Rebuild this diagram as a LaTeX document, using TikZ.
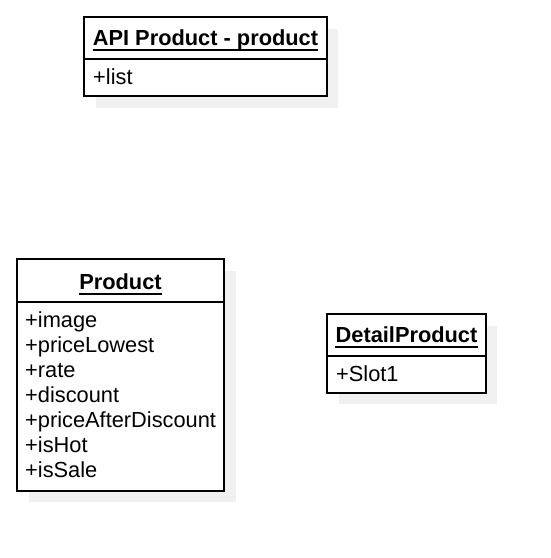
\documentclass[tikz,border=0pt]{standalone}
\usepackage{fontspec}
\setmainfont{Liberation Sans}
\definecolor{shade}{HTML}{F0F0F0}
\begin{document}
\begin{tikzpicture}[x=1pt,y=-1pt,
  classbox/.style={draw=black,line width=1.8pt,fill=white},
  shadowbox/.style={fill=shade,draw=none},
  divider/.style={draw=black,line width=1.8pt},
  title/.style={font=\fontsize{21.8}{25}\selectfont\bfseries,inner sep=0pt,anchor=base},
  attr/.style={font=\fontsize{21.8}{25}\selectfont,inner sep=0pt,anchor=base west},
  uline/.style={line width=1.8pt}]
\useasboundingbox[fill=white] (0,0) rectangle (551,558);

% API Product - product
\fill[shadowbox] (96,29) rectangle (338,108);
\path[classbox] (84,17) rectangle (327,96);
\draw[divider] (84,59) -- (327,59);
\node[title] (ta) at (205.5,45) {API Product - product};
\draw[uline] ([yshift=-5pt]ta.base west) -- ([yshift=-5pt]ta.base east);
\node[attr] (la) at (93,84) {+list};

% Product
\fill[shadowbox] (29,271) rectangle (236,502);
\path[classbox] (17,259) rectangle (224,491);
\draw[divider] (17,302) -- (224,302);
\node[title] (tp) at (120.5,289) {Product};
\draw[uline] ([yshift=-5pt]tp.base west) -- ([yshift=-5pt]tp.base east);
\node[attr] (p1) at (25,327) {+image};
\node[attr] (p2) at (25,352) {+priceLowest};
\node[attr] (p3) at (25,377) {+rate};
\node[attr] (p4) at (25,402) {+discount};
\node[attr] (p5) at (25,427) {+priceAfterDiscount};
\node[attr] (p6) at (25,452) {+isHot};
\node[attr] (p7) at (25,477) {+isSale};

% DetailProduct
\fill[shadowbox] (339,326) rectangle (497,404);
\path[classbox] (327,314) rectangle (486,393);
\draw[divider] (327,356) -- (486,356);
\node[title] (td) at (406.5,342) {DetailProduct};
\draw[uline] ([yshift=-5pt]td.base west) -- ([yshift=-5pt]td.base east);
\node[attr] (d1) at (336,381) {+Slot1};
\end{tikzpicture}
\end{document}
